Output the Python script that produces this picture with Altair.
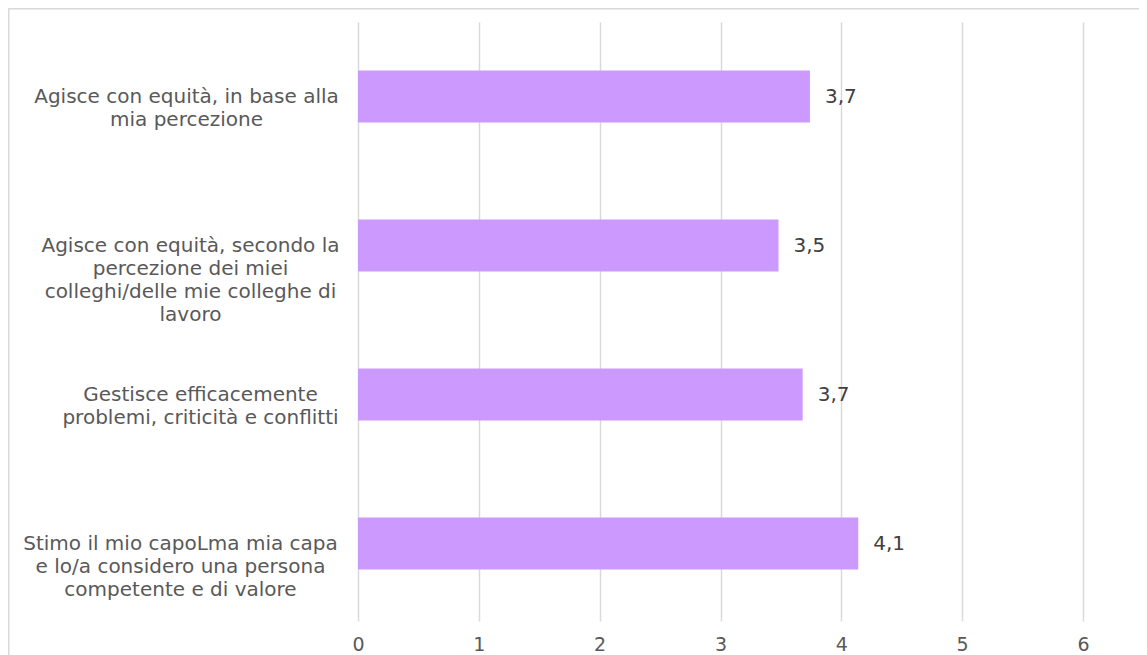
import altair as alt
import pandas as pd

categories = [
    "Agisce con equità, in base alla\nmia percezione",
    "Agisce con equità, secondo la\npercezione dei miei\ncolleghi/delle mie colleghe di\nlavoro",
    "Gestisce efficacemente\nproblemi, criticità e conflitti",
    "Stimo il mio capoLma mia capa\ne lo/a considero una persona\ncompetente e di valore",
]
values = [3.74, 3.48, 3.68, 4.14]
value_labels = ["3,7", "3,5", "3,7", "4,1"]
x_ticks = [0, 1, 2, 3, 4, 5, 6]

df = pd.DataFrame({"cat": categories, "val": values, "lab": value_labels})

FONT = "DejaVu Sans"
GRID = "#d9d9d9"

y_enc = alt.Y(
    "cat:N",
    sort=categories,
    title=None,
    scale=alt.Scale(paddingInner=0.65, paddingOuter=0.325),
    axis=alt.Axis(
        domain=False,
        ticks=False,
        tickSize=0,
        grid=False,
        labelFont=FONT,
        labelFontSize=20,
        labelColor="#595959",
        labelAlign="center",
        labelBaseline="middle",
        labelLineHeight=23,
        labelLimit=500,
        labelExpr="split(datum.label, '\\n')",
        labelPadding={
            "condition": [
                {"test": "indexof(datum.value, 'in base') >= 0", "value": 172},
                {"test": "indexof(datum.value, 'Gestisce') >= 0", "value": 158},
                {"test": "indexof(datum.value, 'Stimo') >= 0", "value": 178},
            ],
            "value": 168,
        },
    ),
)

x_enc = alt.X(
    "val:Q",
    title=None,
    scale=alt.Scale(domain=[0, 6], nice=False, zero=True),
    axis=alt.Axis(
        values=x_ticks,
        format="d",
        domain=False,
        grid=True,
        gridColor=GRID,
        gridWidth=1.5,
        ticks=True,
        tickColor=GRID,
        tickWidth=1.5,
        tickSize=3,
        labelFlush=False,
        labelFont=FONT,
        labelFontSize=19,
        labelColor="#595959",
        labelPadding=14,
    ),
)

bars = alt.Chart(df).mark_bar(color="#cc99ff").encode(x=x_enc, y=y_enc)

texts = alt.Chart(df).mark_text(
    align="left", baseline="middle", dx=15, font=FONT, fontSize=20, color="#404040"
).encode(x="val:Q", y=alt.Y("cat:N", sort=categories), text="lab:N")

frame = alt.Chart(alt.Data(values=[{}])).mark_rect(
    fillOpacity=0, stroke=GRID, strokeWidth=1.5
).encode(
    x=alt.value(-349.25), x2=alt.value(3000), y=alt.value(-13.25), y2=alt.value(3000)
)

chart = alt.layer(frame, bars, texts).properties(
    width=725,
    height=596,
    autosize=alt.AutoSizeParams(type="none"),
    padding={"left": 350, "top": 14, "right": 56, "bottom": 37},
).configure_view(stroke=None)

chart.save("out.html", embed_options={"renderer": "svg", "actions": False})
